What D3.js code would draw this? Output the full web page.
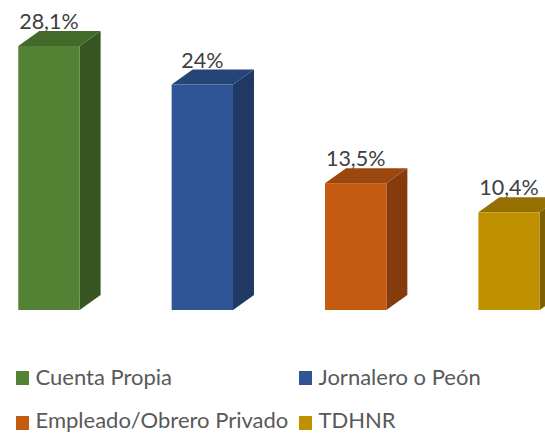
<!DOCTYPE html>
<html>
<head>
<meta charset="utf-8">
<script src="https://cdn.jsdelivr.net/npm/d3@7"></script>
<style>
  html, body { margin: 0; padding: 0; background: #fff; }
  svg { display: block; }
  text { font-family: Lato, "Open Sans", sans-serif; }
</style>
</head>
<body>
<svg id="chart"></svg>
<script>
const width = 545;
const height = 433;

const categories = ["Cuenta Propia", "Jornalero o Peón", "Empleado/Obrero Privado", "TDHNR"];
const values = [28.1, 24, 13.5, 10.4];
const valueLabels = ["28,1%", "24%", "13,5%", "10,4%"];
const frontColors = ["#548235", "#2f5597", "#c55a11", "#bf9000"];
const topColors = ["#436a2b", "#254478", "#9c470d", "#957000"];
const sideColors = ["#375623", "#1f3864", "#843c0c", "#7f6000"];

const BASE_Y = 310;
const TOP_Y = 46;
const DEPTH_X = 21;
const DEPTH_Y = 15;

const svg = d3.select("#chart").attr("width", width).attr("height", height);

const x = d3.scaleBand()
  .domain(categories)
  .range([18 - 45.75, 540 + 45.75])
  .paddingInner(0.6)
  .paddingOuter(0.3);

const y = d3.scaleLinear().domain([0, 28.1]).range([BASE_Y, TOP_Y]);

const points = (arr) => arr.map(p => p.join(",")).join(" ");

const bars = svg.selectAll("g.bar")
  .data(categories)
  .join("g")
  .attr("class", "bar");

// side face
bars.append("polygon")
  .attr("fill", (d, i) => sideColors[i])
  .attr("points", (d, i) => {
    const r = x(d) + x.bandwidth();
    return points([[r, y(values[i])], [r + DEPTH_X, y(values[i]) - DEPTH_Y], [r + DEPTH_X, BASE_Y - DEPTH_Y], [r, BASE_Y]]);
  });

// top face
bars.append("polygon")
  .attr("fill", (d, i) => topColors[i])
  .attr("points", (d, i) => {
    const l = x(d), r = l + x.bandwidth(), t = y(values[i]);
    return points([[l, t], [l + DEPTH_X, t - DEPTH_Y], [r + DEPTH_X, t - DEPTH_Y], [r, t]]);
  });

// front face
bars.append("rect")
  .attr("x", d => x(d))
  .attr("y", (d, i) => y(values[i]))
  .attr("width", x.bandwidth())
  .attr("height", (d, i) => BASE_Y - y(values[i]))
  .attr("fill", (d, i) => frontColors[i]);

bars.append("text")
  .attr("x", d => x(d) + x.bandwidth() / 2)
  .attr("y", (d, i) => y(values[i]) - 17)
  .attr("text-anchor", "middle")
  .attr("font-size", 21.5)
  .attr("fill", "#404040")
  .text((d, i) => valueLabels[i]);

// legend, two rows of two
const legendX = d3.scaleOrdinal().domain([0, 1]).range([16, 299]);
const legendY = d3.scaleOrdinal().domain([0, 1]).range([378, 423]);

const legend = svg.selectAll("g.legend")
  .data(categories)
  .join("g")
  .attr("class", "legend")
  .attr("transform", (d, i) => `translate(${legendX(i % 2)},${legendY(Math.floor(i / 2))})`);

legend.append("rect")
  .attr("x", 0)
  .attr("y", -7)
  .attr("width", 13)
  .attr("height", 14)
  .attr("fill", (d, i) => frontColors[i]);

// bottom row sits a little higher so the descenders stay inside the window
legend.append("text")
  .attr("x", 19.5)
  .attr("y", (d, i) => i < 2 ? 7 : 4.5)
  .attr("font-size", 22)
  .attr("fill", "#595959")
  .text(d => d);
</script>
</body>
</html>
